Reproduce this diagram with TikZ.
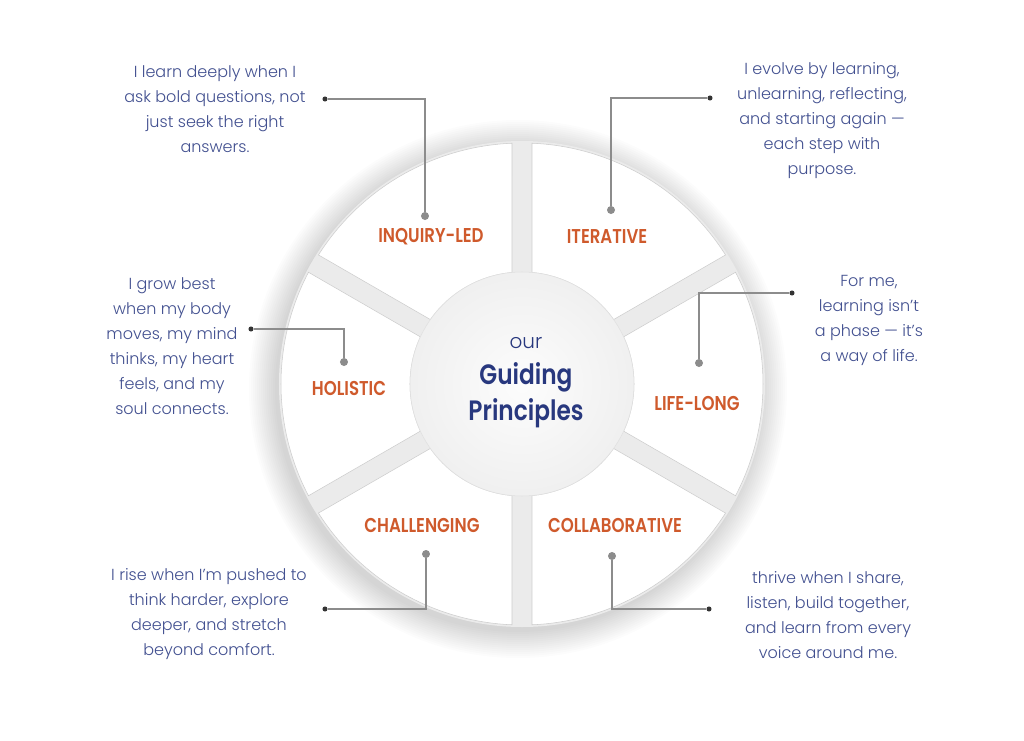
\documentclass[tikz,border=0pt]{standalone}
\usepackage{fontspec}
\usepackage{xcolor}
\usetikzlibrary{calc}
\setmainfont{Poppins Light}
\newfontfamily\headfont{Poppins SemiBold}[FakeStretch=0.83]
\definecolor{ink}{HTML}{425090}
\definecolor{rust}{HTML}{CF5A2C}
\definecolor{navy}{HTML}{28387E}
\definecolor{ringgrey}{HTML}{EBEBEB}
\definecolor{leadgrey}{HTML}{8C8C8C}
\tikzset{>=stealth,
  note/.style={text=ink, align=center, inner sep=0pt, font=\fontsize{12}{18.75}\selectfont},
  tag/.style={text=rust, inner sep=0pt, font=\headfont\fontsize{15}{18}\selectfont},
  bullet/.style={fill=black!80, circle, inner sep=0pt, minimum size=3.8pt},
  pin/.style={fill=leadgrey, circle, inner sep=0pt, minimum size=6pt},
  leader/.style={leadgrey, line width=0.8pt},
  segment/.style={fill=white, draw=black!20, line width=0.4pt}}

\begin{document}
\begin{tikzpicture}[x=0.75pt,y=0.75pt]
\useasboundingbox[fill=white] (-522,-356) rectangle (502,384);

% soft shadow round the wheel
\foreach \i in {1,...,14}
  \fill[black, opacity=0.01] (-4,-5) circle (241+2*\i);
\fill[ringgrey] (0,0) circle (243);

% six white segments, gaps 20 wide
\foreach \a in {0,60,...,300}
  \draw[segment] (\a-27.62:241) arc[start angle=\a-27.62, end angle=\a+27.62, radius=241]
    -- (\a+24.88:112) arc[start angle=\a+24.88, end angle=\a-24.88, radius=112] -- cycle;

% hub
\shade[inner color=black!1, outer color=black!6] (0,0) circle (112);
\draw[black!12, line width=0.4pt] (0,0) circle (112);
\node[text=navy, inner sep=0pt, font=\fontsize{15}{18}\selectfont] (our) at (4,41) {our};
\node[text=navy, inner sep=0pt, font=\headfont\fontsize{21}{26}\selectfont] (guiding) at (4,7) {Guiding};
\node[text=navy, inner sep=0pt, font=\headfont\fontsize{21}{26}\selectfont] (principles) at (4,-29) {Principles};

% segment labels
\node[tag] (inquiry) at (-91,147) {INQUIRY-LED};
\node[tag] (iterative) at (85,147) {ITERATIVE};
\node[tag] (holistic) at (-173,-4) {HOLISTIC};
\node[tag] (lifelong) at (175,-19) {LIFE-LONG};
\node[tag] (challenging) at (-100,-141) {CHALLENGING};
\node[tag] (collab) at (93,-141) {COLLABORATIVE};

% notes with their leaders
\node[note] (inquirytext) at (-307,274.5) {I learn deeply when I\\ask bold questions, not\\just seek the right\\answers.};
\node[bullet] (inquirydot) at (-197,285) {};
\node[pin] (inquirypin) at (-97,168) {};
\draw[leader] (inquirydot) -- (inquirydot -| inquirypin) -- (inquirypin);

\node[note] (iterativetext) at (300,263) {I evolve by learning,\\unlearning, reflecting,\\and starting again —\\each step with\\purpose.};
\node[bullet] (iterativedot) at (188,286) {};
\node[pin] (iterativepin) at (89,174) {};
\draw[leader] (iterativedot) -- (iterativedot -| iterativepin) -- (iterativepin);

\node[note] (holistictext) at (-350,38) {I grow best\\when my body\\moves, my mind\\thinks, my heart\\feels, and my\\soul connects.};
\node[bullet] (holisticdot) at (-271,55) {};
\node[pin] (holisticpin) at (-178,22) {};
\draw[leader] (holisticdot) -- (holisticdot -| holisticpin) -- (holisticpin);

\node[note] (lifelongtext) at (347,63.5) {For me,\\learning isn’t\\a phase — it’s\\a way of life.};
\node[bullet] (lifelongdot) at (270,91) {};
\node[pin] (lifelongpin) at (177,21) {};
\draw[leader] (lifelongdot) -- (lifelongdot -| lifelongpin) -- (lifelongpin);

\node[note] (challengingtext) at (-313,-230.5) {I rise when I’m pushed to\\think harder, explore\\deeper, and stretch\\beyond comfort.};
\node[bullet] (challengingdot) at (-197,-225) {};
\node[pin] (challengingpin) at (-96,-170) {};
\draw[leader] (challengingdot) -- (challengingdot -| challengingpin) -- (challengingpin);

\node[note] (collabtext) at (306,-231) {thrive when I share,\\listen, build together,\\and learn from every\\voice around me.};
\node[bullet] (collabdot) at (187,-225) {};
\node[pin] (collabpin) at (90,-172) {};
\draw[leader] (collabdot) -- (collabdot -| collabpin) -- (collabpin);
\end{tikzpicture}
\end{document}
